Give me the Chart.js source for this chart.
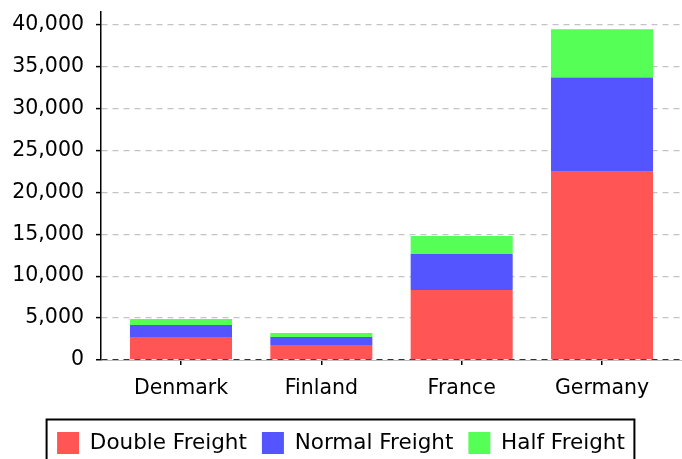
<!DOCTYPE html>
<html>
<head>
<meta charset="utf-8">
<script src="https://cdn.jsdelivr.net/npm/chart.js@4"></script>
<style>
  html, body { margin: 0; padding: 0; background: #fff; }
  #wrap { width: 682px; height: 459px; }
</style>
</head>
<body>
<div id="wrap"><canvas id="myChart"></canvas></div>
<script>
const countries = ['Denmark', 'Finland', 'France', 'Germany'];
const doubleFreight = [2750, 1800, 8350, 22450];
const normalFreight = [1430, 950, 4300, 11250];
const halfFreight = [720, 480, 2150, 5750];
const yTicks = [0, 5000, 10000, 15000, 20000, 25000, 30000, 35000, 40000];

const police = 'DejaVu Sans';

// cadre noir autour de la légende
const cadreLegende = {
    id: 'cadreLegende',
    afterDraw(chart) {
        const boxes = chart.legend.legendHitBoxes;
        if (!boxes || !boxes.length) return;
        const first = boxes[0];
        const last = boxes[boxes.length - 1];
        const ctx = chart.ctx;
        ctx.save();
        ctx.strokeStyle = '#000';
        ctx.lineWidth = 2;
        const left = first.left - 10.5;
        const right = last.left + last.width + 9.5;
        const top = first.top - 12.5;
        ctx.strokeRect(left, top, right - left, 60);
        ctx.restore();
    }
};

const ctx = document.getElementById('myChart');

new Chart(ctx, {
    type: 'bar',
    data: {
        labels: countries.map((c, i) => i),
        datasets: [
            { label: 'Double Freight', data: doubleFreight, backgroundColor: '#ff5555' },
            { label: 'Normal Freight', data: normalFreight, backgroundColor: '#5555ff' },
            { label: 'Half Freight', data: halfFreight, backgroundColor: '#55ff55' }
        ]
    },
    options: {
        responsive: true,
        maintainAspectRatio: false,
        animation: false,
        categoryPercentage: 1,
        barPercentage: 0.727,
        layout: { padding: { top: 12, right: 0, left: 0, bottom: -5 } },
        scales: {
            x: {
                type: 'linear',
                stacked: true,
                offset: false,
                min: -0.57,
                max: 3.57,
                afterBuildTicks: function(scale) {
                    scale.ticks = countries.map((c, i) => ({ value: i }));
                },
                afterFit: function(scale) { scale.height = 57; },
                ticks: {
                    padding: 11,
                    color: '#000',
                    font: { family: police, size: 20.5 },
                    callback: function(value) { return countries[value]; }
                },
                grid: {
                    display: true,
                    offset: false,
                    drawOnChartArea: false,
                    drawTicks: true,
                    tickLength: 5,
                    tickColor: '#000',
                    lineWidth: 1.5
                },
                border: { display: true, color: '#bbbbbb', width: 1 }
            },
            y: {
                stacked: true,
                min: 0,
                max: 41500,
                afterBuildTicks: function(scale) {
                    scale.ticks = yTicks.map(v => ({ value: v }));
                },
                afterFit: function(scale) {
                    scale.width = 101;
                    scale.paddingTop = 0;
                    scale.paddingBottom = 0;
                },
                ticks: {
                    padding: 12,
                    color: '#000',
                    font: { family: police, size: 20.5 },
                    callback: function(value) { return value.toLocaleString('en-US'); }
                },
                grid: {
                    color: function(c) { return c.tick && c.tick.value === 0 ? '#333333' : '#c4c4c4'; },
                    lineWidth: function(c) { return c.tick && c.tick.value === 0 ? 1.5 : 1.2; },
                    tickLength: 5,
                    tickColor: '#000',
                    tickWidth: 1.5,
                    tickBorderDash: []
                },
                border: { display: true, color: '#000', width: 1.5, dash: [6, 5] }
            }
        },
        plugins: {
            legend: {
                position: 'bottom',
                labels: {
                    boxWidth: 22,
                    boxHeight: 22,
                    padding: 15,
                    color: '#000',
                    font: { family: police, size: 21.5 }
                }
            },
            tooltip: { enabled: false }
        }
    },
    plugins: [cadreLegende]
});
</script>
</body>
</html>
